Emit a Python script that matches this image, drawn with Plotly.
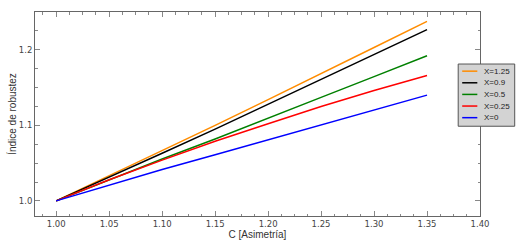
import plotly.graph_objects as go

c_values = [1.00, 1.05, 1.10, 1.15, 1.20, 1.25, 1.30, 1.35]
x_125 = [1.000, 1.033, 1.066, 1.100, 1.134, 1.169, 1.203, 1.2376]
x_09 = [1.000, 1.031, 1.063, 1.095, 1.128, 1.160, 1.193, 1.2266]
x_05 = [1.000, 1.028, 1.0555, 1.082, 1.109, 1.137, 1.1645, 1.192]
x_025 = [1.000, 1.028, 1.054, 1.079, 1.102, 1.125, 1.146, 1.166]
x_0 = [1.000, 1.021, 1.0415, 1.061, 1.081, 1.1005, 1.120, 1.140]

series_names = ["X=1.25", "X=0.9", "X=0.5", "X=0.25", "X=0"]
series_values = [x_125, x_09, x_05, x_025, x_0]
series_colors = ["#ff8c00", "#000000", "#008000", "#ff0000", "#0000ff"]

fig = go.Figure()
for name, vals, col in zip(series_names, series_values, series_colors):
    fig.add_trace(go.Scatter(x=c_values, y=vals, mode="lines", name=name,
                             line=dict(color=col, width=1.5), showlegend=False))

# custom compact legend (matplotlib-like)
lx0, lx1 = 0.951, 1.078
ly_top, row_h = 0.745, 0.057
n = len(series_names)
fig.add_shape(type="rect", xref="paper", yref="paper", x0=lx0, x1=lx1,
              y0=ly_top - row_h * n - 0.02, y1=ly_top,
              fillcolor="#d3d3d3", line=dict(color="#555555", width=1), layer="above")
for i, (name, col) in enumerate(zip(series_names, series_colors)):
    yy = ly_top - 0.035 - i * row_h
    fig.add_shape(type="line", xref="paper", yref="paper", x0=lx0 + 0.009, x1=lx0 + 0.043,
                  y0=yy, y1=yy, line=dict(color=col, width=1.5), layer="above")
    fig.add_annotation(xref="paper", yref="paper", x=lx0 + 0.054, y=yy, text=name,
                       showarrow=False, xanchor="left", yanchor="middle",
                       font=dict(family="Liberation Sans, Arial", size=8, color="#222222"))

axis_common = dict(showline=True, linecolor="#666666", linewidth=1, mirror="allticks",
                   ticks="inside", ticklen=5, tickcolor="#888888", tickwidth=1,
                   showgrid=False, zeroline=False, automargin=False,
                   tickfont=dict(family="DejaVu Sans", size=8.5, color="#444444"))

fig.update_layout(
    template="none",
    width=517, height=252,
    margin=dict(l=35, r=37, t=12, b=36),
    paper_bgcolor="white", plot_bgcolor="white",
    xaxis=dict(range=[0.98, 1.40], dtick=0.05, tick0=1.0, tickformat=".2f",
               minor=dict(dtick=0.0125, ticks="inside", ticklen=2.5, tickcolor="#888888"),
               title=dict(text="C [Asimetría]", standoff=0,
                          font=dict(family="Liberation Sans, Arial", size=10, color="#333333")),
               **axis_common),
    yaxis=dict(range=[0.98, 1.25], dtick=0.1, tick0=1.0, tickformat=".1f",
               minor=dict(dtick=0.025, ticks="inside", ticklen=2.5, tickcolor="#888888"),
               title=dict(text="Índice de robustez", standoff=0,
                          font=dict(family="Liberation Sans, Arial", size=10, color="#333333")),
               **axis_common),
)

fig.write_html("out.html", config={"displayModeBar": False},
               post_script="document.body.style.margin='0';")
